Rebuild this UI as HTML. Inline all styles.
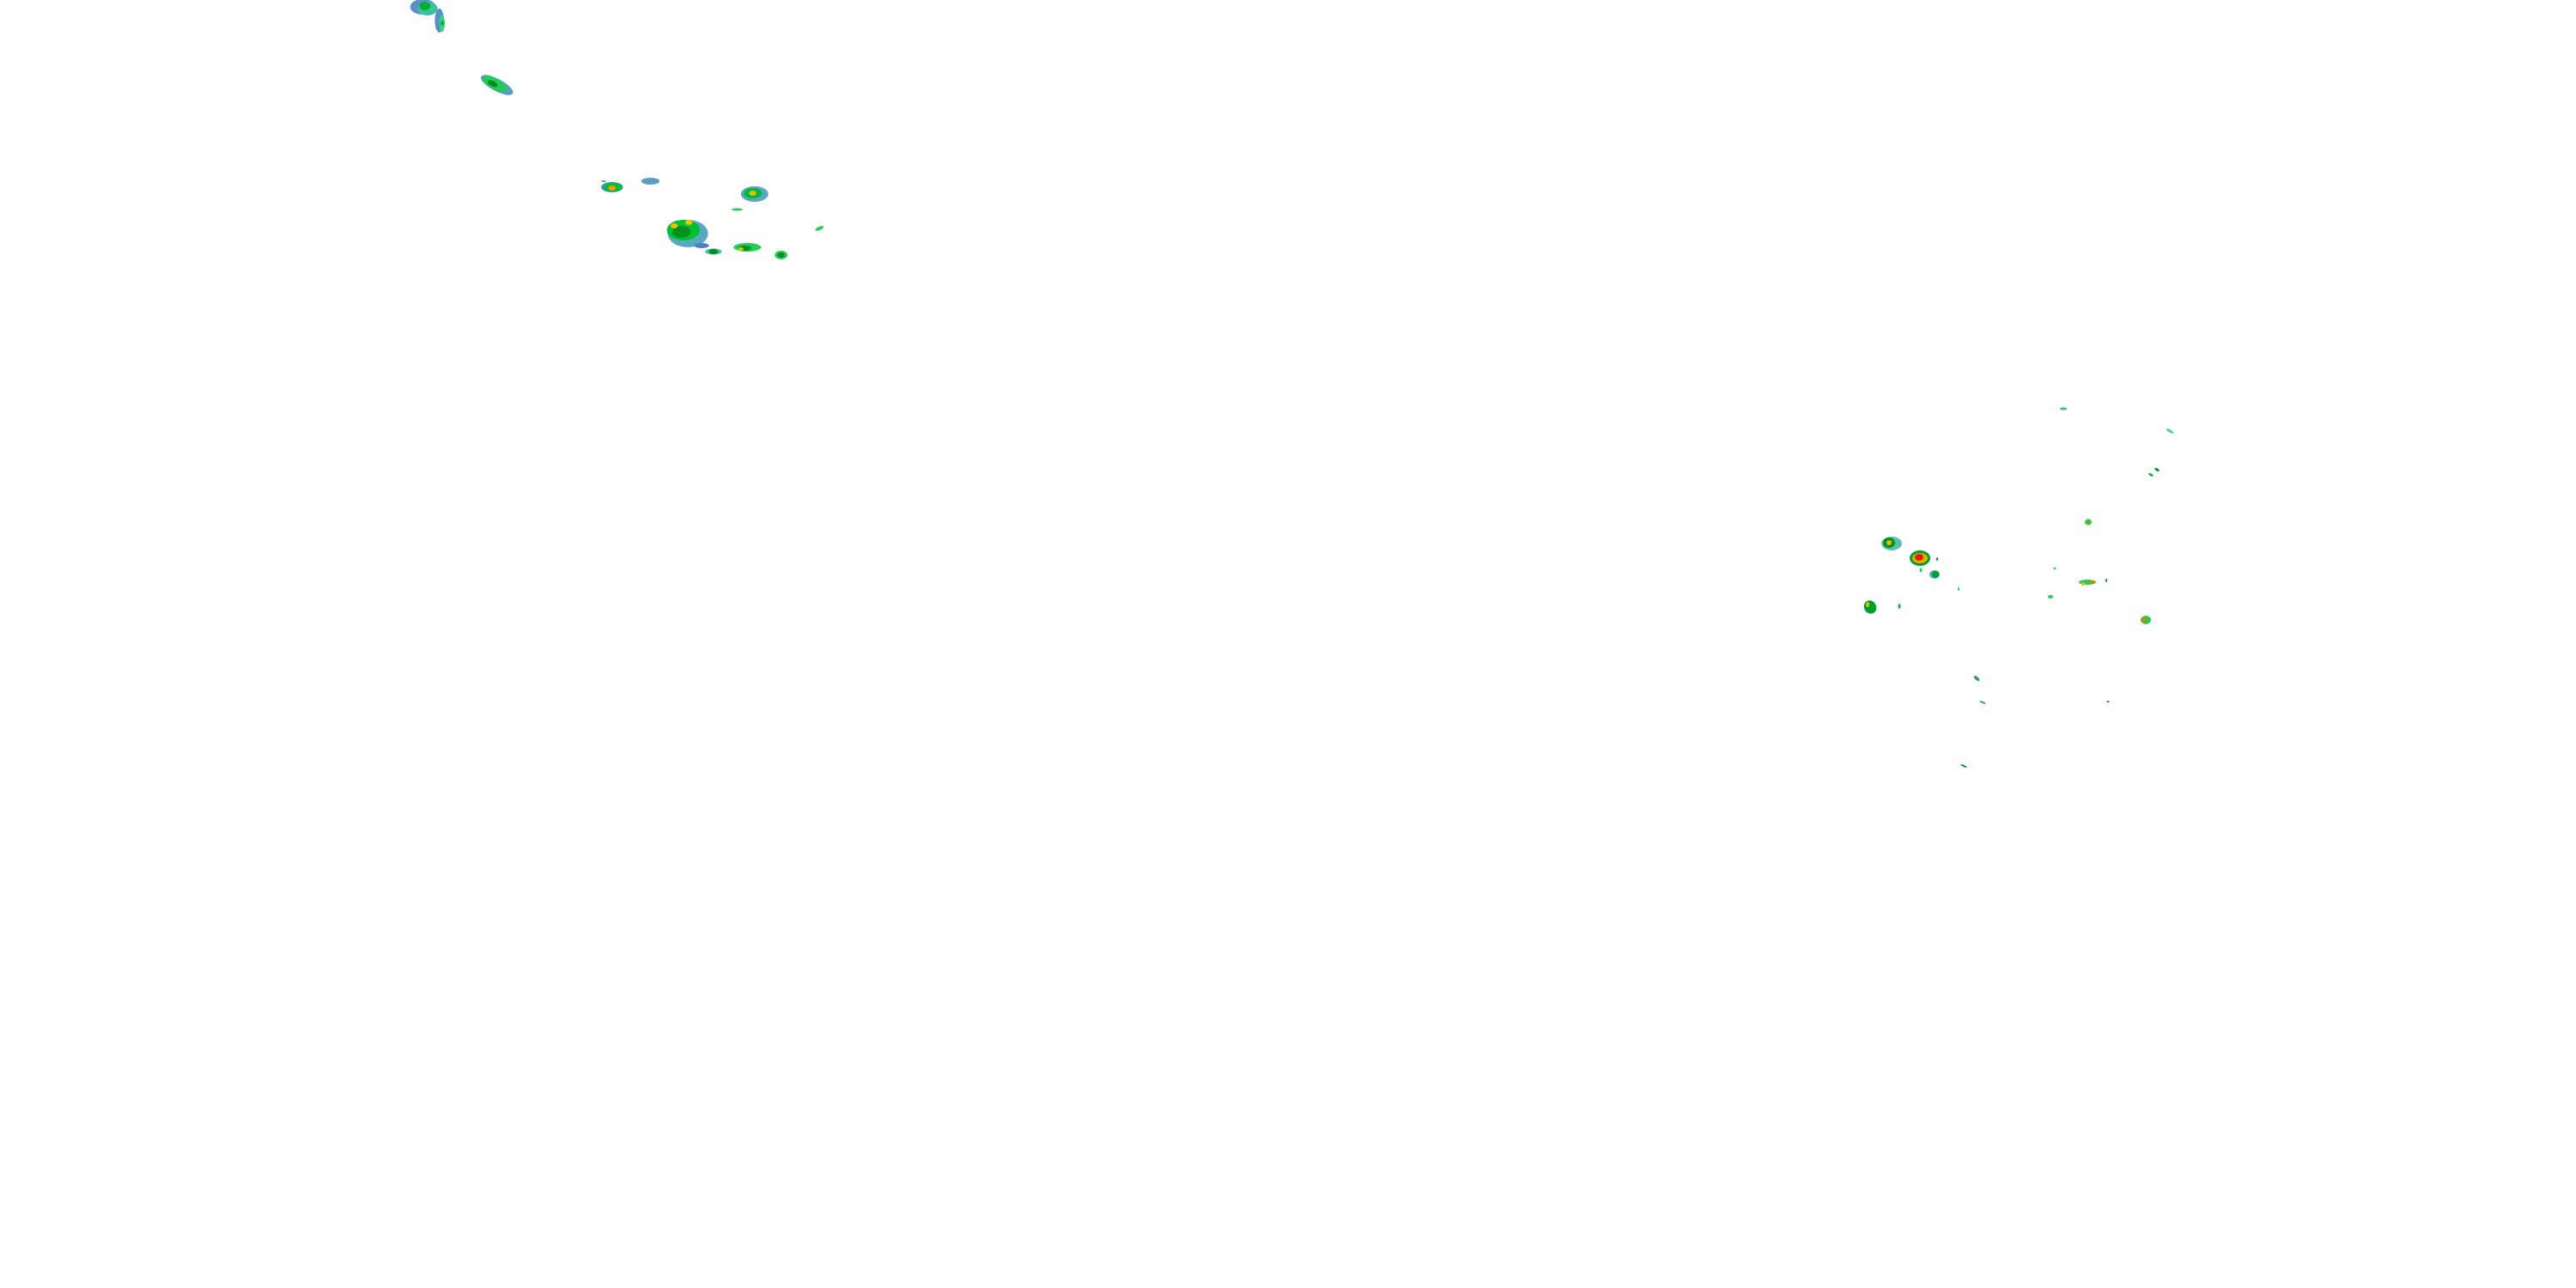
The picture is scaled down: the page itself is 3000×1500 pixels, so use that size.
<!DOCTYPE html>
<html><head><meta charset="utf-8"><style>html,body{margin:0;padding:0;background:#fff;width:3000px;height:1500px;overflow:hidden}</style></head>
<body>
<svg width="3000" height="1500" viewBox="0 0 3000 1500" xmlns="http://www.w3.org/2000/svg">
<rect width="3000" height="1500" fill="#fff"/>
<g transform="translate(450 0) scale(1.064 1) translate(-450 0)">
<ellipse cx="490" cy="8" rx="14" ry="9" fill="#5a90c8"/>
<ellipse cx="495" cy="10" rx="11" ry="8" fill="#3fc0a0"/>
<ellipse cx="492" cy="7" rx="6" ry="5" fill="#00b030"/>
<ellipse cx="508" cy="24" rx="5" ry="14" fill="#5a90c8"/>
<ellipse cx="511" cy="27" rx="3" ry="10" fill="#3fd090"/>
<ellipse cx="511" cy="27" rx="2" ry="3" fill="#00c030"/>
<g transform="rotate(30 571 99)">
<ellipse cx="571" cy="99" rx="20" ry="7" fill="#5a9ec0"/>
<ellipse cx="568" cy="99" rx="15" ry="6" fill="#22cc55"/>
<ellipse cx="566" cy="100" rx="6" ry="3" fill="#008a20"/>
</g>
<ellipse cx="697" cy="218" rx="12" ry="6" fill="#3f8fc0"/>
<ellipse cx="698" cy="218" rx="10" ry="5" fill="#00c030"/>
<ellipse cx="697" cy="219" rx="4" ry="3" fill="#ff9a00"/>
<ellipse cx="688" cy="211" rx="3" ry="1" fill="#3fc0a0"/>
<ellipse cx="739" cy="211" rx="10" ry="4" fill="#5a9ec0"/>
<ellipse cx="853" cy="226" rx="15" ry="9" fill="#5aa8c0"/>
<ellipse cx="851" cy="225" rx="10" ry="6" fill="#00b840"/>
<ellipse cx="851" cy="225" rx="4" ry="3" fill="#e0c000"/>
<ellipse cx="834" cy="244" rx="6" ry="1.5" fill="#22cc55"/>
<ellipse cx="780" cy="272" rx="22" ry="16" fill="#5aa8c0"/>
<ellipse cx="775" cy="268" rx="18" ry="12" fill="#00c030"/>
<ellipse cx="773" cy="270" rx="10" ry="7" fill="#009020"/>
<ellipse cx="765" cy="263" rx="4" ry="3" fill="#f0c000"/>
<ellipse cx="781" cy="259" rx="4" ry="3" fill="#f0c000"/>
<ellipse cx="795" cy="286" rx="8" ry="3" fill="#4a80c0"/>
<ellipse cx="808" cy="293" rx="9" ry="3.5" fill="#3fc0a0"/>
<ellipse cx="808" cy="293" rx="5" ry="3" fill="#008a20"/>
<ellipse cx="845" cy="288" rx="15" ry="5" fill="#22cc55"/>
<ellipse cx="842" cy="289" rx="7" ry="3" fill="#009020"/>
<ellipse cx="838" cy="290" rx="3" ry="2" fill="#e0c000"/>
<ellipse cx="882" cy="297" rx="7" ry="5" fill="#22cc55"/>
<ellipse cx="882" cy="297" rx="4" ry="3" fill="#009020"/>
<ellipse cx="924" cy="266" rx="5" ry="2" fill="#22cc55" transform="rotate(-25 924 266)"/>
</g>
<g>
<ellipse cx="2403" cy="476" rx="4" ry="1.5" fill="#22cc55"/>
<ellipse cx="2527" cy="502" rx="5" ry="1.5" fill="#3fd090" transform="rotate(30 2527 502)"/>
<ellipse cx="2512" cy="547" rx="3" ry="1.5" fill="#009020" transform="rotate(30 2512 547)"/>
<ellipse cx="2505" cy="553" rx="3" ry="1.5" fill="#22aa55" transform="rotate(30 2505 553)"/>
<ellipse cx="2432" cy="608" rx="4" ry="3.5" fill="#22cc55"/>
<ellipse cx="2432" cy="608" rx="1.5" ry="1.5" fill="#e07000"/>
<ellipse cx="2203" cy="633" rx="12" ry="8" fill="#5ac0a8"/>
<ellipse cx="2200" cy="632" rx="7" ry="6" fill="#009020"/>
<ellipse cx="2200" cy="632" rx="3" ry="3" fill="#e0c000"/>
<ellipse cx="2236" cy="650" rx="12" ry="9" fill="#00a030"/>
<ellipse cx="2236" cy="650" rx="9" ry="6" fill="#e0b000"/>
<ellipse cx="2235" cy="649" rx="5" ry="4" fill="#e02000"/>
<ellipse cx="2253" cy="669" rx="6" ry="5" fill="#5aa8c0"/>
<ellipse cx="2254" cy="669" rx="4" ry="4" fill="#00a030"/>
<ellipse cx="2256" cy="651" rx="1" ry="2" fill="#009020"/>
<ellipse cx="2237" cy="664" rx="1.5" ry="2.5" fill="#22cc55"/>
<ellipse cx="2281" cy="686" rx="1" ry="2" fill="#22cc55"/>
<ellipse cx="2178" cy="707" rx="7" ry="8" fill="#00a030" transform="rotate(-30 2178 707)"/>
<ellipse cx="2175" cy="704" rx="2" ry="3" fill="#e0c000"/>
<ellipse cx="2212" cy="706" rx="1.5" ry="3" fill="#22aa55"/>
<ellipse cx="2393" cy="662" rx="1.5" ry="1.5" fill="#3fc0a0"/>
<ellipse cx="2431" cy="678" rx="10" ry="3" fill="#22cc55"/>
<ellipse cx="2436" cy="678" rx="3" ry="2" fill="#e08000"/>
<ellipse cx="2426" cy="680" rx="2" ry="2" fill="#e0c000"/>
<ellipse cx="2453" cy="676" rx="1" ry="2" fill="#009020"/>
<ellipse cx="2388" cy="695" rx="3" ry="2" fill="#22cc55"/>
<ellipse cx="2499" cy="722" rx="6" ry="5" fill="#22cc55"/>
<ellipse cx="2497" cy="722" rx="3" ry="2.5" fill="#e08000"/>
<ellipse cx="2302" cy="790" rx="4" ry="2" fill="#22aa55" transform="rotate(40 2302 790)"/>
<ellipse cx="2309" cy="818" rx="4" ry="1" fill="#22aa55" transform="rotate(25 2309 818)"/>
<ellipse cx="2287" cy="892" rx="4" ry="1" fill="#009020" transform="rotate(25 2287 892)"/>
<ellipse cx="2455" cy="817" rx="1.5" ry="1" fill="#009020"/>
</g>
</svg>
</body></html>
